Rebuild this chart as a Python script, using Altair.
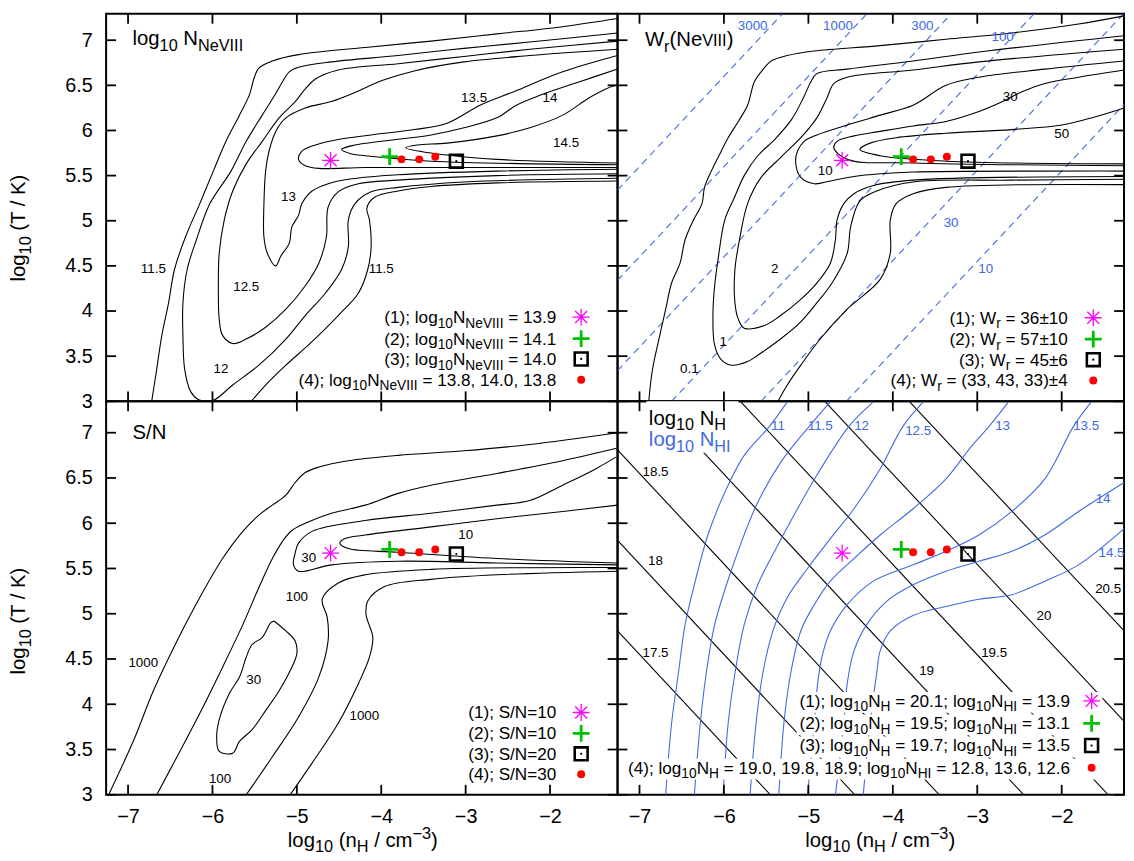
import altair as alt
import pandas as pd

FONT = "Liberation Sans"
BLUE = "#4169e1"
MAGENTA = "#ff00ff"
GREEN = "#00c000"
RED = "#ff0000"

# ---------------- data ----------------
X_TICKS = [-7, -6, -5, -4, -3, -2]
Y_TICKS = [3, 3.5, 4, 4.5, 5, 5.5, 6, 6.5, 7]

XDOM_L = [-7.26, -1.20]
XDOM_R = [-7.26, -1.262]
YDOM_T = [3.0, 7.293]
YDOM_B = [3.0, 7.347]

OBS_STAR = [(-4.60, 5.67)]
OBS_PLUS = [(-3.90, 5.71)]
OBS_SQUARE = [(-3.11, 5.66)]
OBS_DOTS = [(-3.76, 5.68), (-3.55, 5.68), (-3.36, 5.71)]

# panel 1: log10 N(NeVIII)
NE_CONTOURS = {
    "11.5a": [(-6.72, 3.0), (-6.66, 3.36), (-6.60, 3.73), (-6.52, 4.09), (-6.45, 4.46), (-6.32, 4.82), (-6.15, 5.19),
              (-5.99, 5.55), (-5.84, 5.88), (-5.68, 6.17), (-5.56, 6.40), (-5.51, 6.57), (-5.45, 6.69), (-5.29, 6.77),
              (-4.98, 6.84), (-4.19, 6.92), (-3.41, 6.99), (-2.63, 7.07), (-1.85, 7.15), (-1.2, 7.24)],
    "11.5b": [(-5.54, 3.0), (-5.37, 3.18), (-5.13, 3.40), (-4.82, 3.66), (-4.51, 3.95), (-4.27, 4.20), (-4.16, 4.46),
              (-4.12, 4.71), (-4.14, 5.01), (-4.17, 5.14), (-4.08, 5.26), (-3.80, 5.33), (-3.41, 5.38), (-2.63, 5.42),
              (-1.2, 5.44)],
    "12": [(-1.2, 7.08), (-2.24, 6.98), (-3.02, 6.91), (-3.80, 6.83), (-4.59, 6.76), (-4.98, 6.70), (-5.09, 6.65),
           (-5.17, 6.54), (-5.25, 6.41), (-5.41, 6.17), (-5.60, 5.88), (-5.78, 5.55), (-6.03, 5.19), (-6.19, 4.79),
           (-6.30, 4.46), (-6.35, 4.09), (-6.35, 3.73), (-6.33, 3.36), (-6.26, 3.11), (-6.17, 3.02), (-6.07, 3.0),
           (-5.97, 3.02), (-5.76, 3.18), (-5.45, 3.40), (-5.13, 3.69), (-4.90, 3.95), (-4.66, 4.20), (-4.47, 4.46),
           (-4.39, 4.71), (-4.39, 5.01), (-4.31, 5.19), (-4.12, 5.32), (-3.80, 5.37), (-3.02, 5.43), (-1.2, 5.47)],
    "12.5": [(-1.2, 6.99), (-2.24, 6.90), (-3.02, 6.82), (-3.80, 6.74), (-4.51, 6.67), (-4.78, 6.57), (-4.90, 6.46),
             (-5.02, 6.32), (-5.21, 6.14), (-5.41, 5.88), (-5.60, 5.63), (-5.76, 5.33), (-5.86, 5.01), (-5.92, 4.64),
             (-5.93, 4.28), (-5.92, 3.91), (-5.88, 3.73), (-5.76, 3.64), (-5.60, 3.69), (-5.37, 3.82), (-5.13, 4.02),
             (-4.90, 4.28), (-4.74, 4.53), (-4.65, 4.82), (-4.63, 5.15), (-4.51, 5.32), (-4.27, 5.41), (-3.80, 5.45),
             (-2.63, 5.50), (-1.2, 5.52)],
    "13": [(-1.2, 6.90), (-2.24, 6.83), (-3.02, 6.76), (-3.61, 6.66), (-4.0, 6.55), (-4.31, 6.42), (-4.59, 6.32),
           (-4.90, 6.25), (-5.13, 6.14), (-5.25, 5.99), (-5.33, 5.77), (-5.37, 5.55), (-5.39, 5.19), (-5.39, 4.82),
           (-5.35, 4.64), (-5.25, 4.50), (-5.19, 4.61), (-5.09, 4.75), (-5.06, 4.93), (-4.98, 5.06), (-4.94, 5.19),
           (-4.82, 5.33), (-4.63, 5.41), (-4.39, 5.46), (-3.80, 5.51), (-2.63, 5.55), (-1.2, 5.57)],
    "13.5": [(-1.2, 6.83), (-1.85, 6.65), (-2.43, 6.43), (-2.83, 6.28), (-3.22, 6.08), (-3.61, 6.01), (-4.12, 5.95),
             (-4.51, 5.90), (-4.78, 5.84), (-4.94, 5.77), (-4.98, 5.68), (-4.90, 5.61), (-4.74, 5.58), (-4.19, 5.59),
             (-3.02, 5.59), (-1.2, 5.59)],
    "14": [(-1.2, 6.68), (-1.65, 6.54), (-2.12, 6.39), (-2.40, 6.28), (-2.63, 6.14), (-3.02, 6.03), (-3.41, 5.95),
           (-4.0, 5.88), (-4.31, 5.84), (-4.47, 5.79), (-4.35, 5.74), (-4.19, 5.72), (-3.41, 5.66), (-1.2, 5.62)],
    "14.5": [(-1.22, 6.50), (-1.34, 6.46), (-1.54, 6.36), (-1.85, 6.17), (-2.24, 6.03), (-2.63, 5.94), (-3.22, 5.86),
             (-3.57, 5.84), (-3.71, 5.81), (-3.41, 5.75), (-2.63, 5.68), (-1.2, 5.64)],
}
NE_LABELS = [("11.5", -6.70, 4.46), ("12.5", -5.60, 4.27), ("12", -5.90, 3.36), ("13", -5.10, 5.26),
             ("11.5", -4.0, 4.46), ("13.5", -2.90, 6.36), ("14", -2.0, 6.36), ("14.5", -1.81, 5.86)]
NE_LEGEND = ["13.9", "14.1", "14.0", "13.8, 14.0, 13.8"]

# panel 2: W_r(NeVIII)
W_CONTOURS = {
    "0.1a": [(-1.26, 7.27), (-1.80, 7.18), (-2.59, 7.08), (-3.37, 7.01), (-4.15, 6.94), (-4.93, 6.88), (-5.25, 6.83),
             (-5.44, 6.77), (-5.56, 6.65), (-5.64, 6.54), (-5.72, 6.28), (-5.83, 6.10), (-5.95, 5.92), (-6.07, 5.70),
             (-6.15, 5.55), (-6.23, 5.37), (-6.26, 5.19), (-6.36, 5.01), (-6.46, 4.79), (-6.52, 4.53), (-6.62, 4.31),
             (-6.69, 4.02), (-6.77, 3.69), (-6.85, 3.33), (-6.89, 3.0)],
    "0.1b": [(-5.36, 3.0), (-5.25, 3.18), (-5.09, 3.40), (-4.86, 3.69), (-4.54, 4.02), (-4.15, 4.35), (-4.03, 4.64),
             (-4.03, 5.01), (-3.96, 5.19), (-3.76, 5.30), (-3.37, 5.37), (-1.26, 5.40)],
    "1": [(-1.26, 7.05), (-2.98, 6.87), (-3.76, 6.77), (-4.54, 6.68), (-4.90, 6.63), (-4.97, 6.54), (-5.06, 6.36),
          (-5.20, 6.12), (-5.40, 5.90), (-5.60, 5.72), (-5.76, 5.50), (-5.88, 5.25), (-5.99, 5.01), (-6.07, 4.57),
          (-6.11, 4.28), (-6.13, 3.98), (-6.11, 3.62), (-6.03, 3.46), (-5.91, 3.40), (-5.72, 3.44), (-5.60, 3.51),
          (-5.33, 3.69), (-5.09, 3.88), (-4.90, 4.09), (-4.72, 4.31), (-4.54, 4.64), (-4.50, 4.93), (-4.39, 5.22),
          (-4.19, 5.33), (-3.76, 5.43), (-2.59, 5.45), (-1.26, 5.46)],
    "2": [(-1.26, 6.90), (-2.98, 6.76), (-3.76, 6.67), (-4.54, 6.59), (-4.70, 6.52), (-4.78, 6.36), (-4.90, 6.14),
          (-5.09, 5.92), (-5.33, 5.70), (-5.56, 5.48), (-5.72, 5.19), (-5.81, 4.82), (-5.87, 4.46), (-5.87, 4.09),
          (-5.83, 3.91), (-5.76, 3.81), (-5.52, 3.84), (-5.33, 3.95), (-5.09, 4.13), (-4.90, 4.31), (-4.74, 4.53),
          (-4.68, 4.79), (-4.66, 5.01), (-4.58, 5.19), (-4.46, 5.30), (-4.23, 5.39), (-3.76, 5.45), (-1.26, 5.49)],
    "10": [(-1.26, 6.77), (-2.20, 6.68), (-2.98, 6.59), (-3.37, 6.50), (-3.76, 6.28), (-4.15, 6.17), (-4.54, 6.06),
           (-4.90, 5.95), (-5.05, 5.88), (-5.13, 5.77), (-5.15, 5.64), (-5.09, 5.48), (-4.93, 5.41), (-4.74, 5.44),
           (-4.46, 5.49), (-4.15, 5.52), (-3.76, 5.54), (-1.26, 5.55)],
    "30": [(-1.26, 6.67), (-1.80, 6.59), (-2.20, 6.52), (-2.47, 6.43), (-2.70, 6.32), (-2.98, 6.21), (-3.37, 6.10),
           (-3.76, 6.05), (-4.15, 5.99), (-4.46, 5.94), (-4.66, 5.88), (-4.70, 5.81), (-4.54, 5.68), (-3.76, 5.64),
           (-1.26, 5.61)],
    "50": [(-1.26, 6.25), (-1.61, 6.15), (-2.0, 6.06), (-2.59, 6.01), (-3.37, 5.97), (-3.96, 5.92), (-4.27, 5.86),
           (-4.39, 5.79), (-4.15, 5.72), (-3.37, 5.66), (-1.26, 5.63)],
}
W_LABELS = [("0.1", -6.41, 3.36), ("1", -6.01, 3.66), ("2", -5.40, 4.46), ("10", -4.80, 5.55),
            ("30", -2.61, 6.37), ("50", -2.0, 5.96)]
W_DASHED = {
    "3000": [(-7.26, 5.34), (-5.31, 7.29)],
    "1000": [(-7.26, 4.34), (-4.31, 7.29)],
    "300": [(-7.26, 3.34), (-3.31, 7.29)],
    "100": [(-6.62, 3.0), (-2.33, 7.29)],
    "30": [(-5.56, 3.0), (-1.27, 7.29)],
    "10": [(-4.55, 3.0), (-1.26, 6.29)],
}
W_DASH_LABELS = [("3000", -5.66, 7.16), ("1000", -4.65, 7.16), ("300", -3.65, 7.16), ("100", -2.70, 7.03),
                 ("30", -3.31, 4.97), ("10", -2.90, 4.46)]
W_LEGEND = ["36±10", "57±10", "45±6", "(33, 43, 33)±4"]

# panel 3: S/N
SN_CONTOURS = {
    "1000a": [(-7.23, 3.0), (-6.93, 3.61), (-6.70, 4.15), (-6.42, 4.70), (-6.15, 5.18), (-5.88, 5.61), (-5.64, 5.91),
              (-5.45, 6.09), (-5.29, 6.20), (-5.13, 6.31), (-5.02, 6.45), (-4.90, 6.56), (-4.74, 6.62), (-4.39, 6.69),
              (-3.80, 6.75), (-3.02, 6.80), (-2.24, 6.87), (-1.2, 7.0)],
    "100a": [(-6.66, 3.0), (-6.42, 3.42), (-6.15, 3.90), (-5.88, 4.41), (-5.64, 4.88), (-5.45, 5.29), (-5.29, 5.61),
             (-5.17, 5.80), (-5.06, 5.92), (-4.90, 6.0), (-4.59, 6.11), (-4.19, 6.20), (-3.80, 6.33), (-3.41, 6.42),
             (-2.63, 6.55), (-1.85, 6.69), (-1.2, 6.83)],
    "30": [(-1.22, 6.73), (-1.46, 6.60), (-1.85, 6.42), (-2.24, 6.25), (-2.63, 6.20), (-3.41, 6.11), (-4.19, 6.03),
           (-4.82, 5.91), (-4.98, 5.78), (-5.02, 5.67), (-5.04, 5.54), (-4.98, 5.47), (-4.59, 5.54), (-3.80, 5.58),
           (-2.63, 5.56), (-1.2, 5.54)],
    "10": [(-1.2, 6.20), (-1.85, 6.13), (-2.63, 6.05), (-3.41, 5.96), (-4.19, 5.87), (-4.43, 5.83), (-4.49, 5.78),
           (-4.39, 5.72), (-3.80, 5.68), (-2.63, 5.61), (-1.2, 5.56)],
    "100b": [(-5.60, 3.0), (-5.29, 3.42), (-4.98, 3.86), (-4.74, 4.30), (-4.63, 4.70), (-4.64, 4.96), (-4.70, 5.16),
             (-4.51, 5.34), (-4.19, 5.43), (-3.41, 5.49), (-1.2, 5.51)],
    "1000b": [(-5.08, 3.0), (-4.82, 3.35), (-4.51, 3.79), (-4.27, 4.23), (-4.14, 4.52), (-4.10, 4.74), (-4.18, 4.99),
              (-4.16, 5.14), (-3.96, 5.30), (-3.41, 5.38), (-2.63, 5.43), (-1.2, 5.47)],
    "30i": [(-5.27, 4.92), (-5.13, 4.81), (-5.02, 4.70), (-5.0, 4.56), (-5.08, 4.37), (-5.21, 4.15), (-5.37, 3.93),
            (-5.53, 3.72), (-5.68, 3.59), (-5.76, 3.46), (-5.92, 3.48), (-5.95, 3.64), (-5.92, 3.83), (-5.80, 4.12),
            (-5.68, 4.30), (-5.60, 4.52), (-5.53, 4.66), (-5.41, 4.74), (-5.31, 4.90), (-5.27, 4.92)],
}
SN_LABELS = [("1000", -6.82, 4.46), ("100", -5.0, 5.18), ("30", -4.86, 5.61), ("10", -3.0, 5.87),
             ("30", -5.51, 4.27), ("1000", -4.20, 3.87), ("100", -5.91, 3.17)]
SN_LEGEND = ["10", "10", "20", "30"]

# panel 4: log10 N_H (black) and log10 N_HI (blue)
NH_LINES = {
    "17.5": [(-7.26, 4.81), (-5.45, 3.0)],
    "18": [(-7.26, 5.81), (-4.45, 3.0)],
    "18.5": [(-7.26, 6.81), (-3.45, 3.0)],
    "19": [(-6.80, 7.34), (-2.45, 3.0)],
    "19.5": [(-5.80, 7.34), (-1.45, 3.0)],
    "20": [(-4.80, 7.34), (-1.26, 3.81)],
    "20.5": [(-3.80, 7.34), (-1.26, 4.81)],
}
NH_LABELS = [("18.5", -6.81, 6.56), ("18", -6.81, 5.58), ("17.5", -6.81, 4.57), ("19", -3.60, 4.37),
             ("19.5", -2.80, 4.57), ("20", -2.21, 4.98), ("20.5", -1.45, 5.27)]
NHI_CURVES = {
    "11": [(-6.69, 3.0), (-6.62, 3.79), (-6.54, 4.34), (-6.46, 4.88), (-6.34, 5.36), (-6.19, 5.87), (-5.99, 6.34),
           (-5.76, 6.75), (-5.46, 7.07), (-5.25, 7.34)],
    "11.5": [(-6.35, 3.0), (-6.28, 3.79), (-6.21, 4.34), (-6.11, 4.88), (-5.97, 5.32), (-5.79, 5.80), (-5.60, 6.23),
             (-5.33, 6.67), (-4.99, 7.07), (-4.74, 7.34)],
    "12": [(-6.01, 3.0), (-5.95, 3.79), (-5.87, 4.34), (-5.76, 4.88), (-5.60, 5.32), (-5.40, 5.69), (-5.17, 6.09),
           (-4.90, 6.53), (-4.52, 7.07), (-4.23, 7.34)],
    "12.5": [(-5.69, 3.0), (-5.62, 3.79), (-5.54, 4.34), (-5.42, 4.81), (-5.25, 5.18), (-5.01, 5.50), (-4.74, 5.83),
             (-4.46, 6.16), (-4.15, 6.60), (-3.88, 7.07), (-3.64, 7.34)],
    "13": [(-5.35, 3.0), (-5.29, 3.79), (-5.21, 4.34), (-5.09, 4.81), (-4.93, 5.10), (-4.74, 5.36), (-4.46, 5.61),
           (-4.15, 5.87), (-3.76, 6.16), (-3.37, 6.49), (-3.06, 6.86), (-2.86, 7.07), (-2.63, 7.34)],
    "13.5": [(-5.01, 3.0), (-4.93, 3.79), (-4.90, 4.15), (-4.84, 4.52), (-4.74, 4.81), (-4.54, 5.10), (-4.23, 5.36),
             (-3.76, 5.54), (-3.37, 5.69), (-2.98, 5.87), (-2.59, 6.13), (-2.20, 6.49), (-1.86, 7.07), (-1.65, 7.34)],
    "14": [(-4.68, 3.0), (-4.58, 3.79), (-4.54, 4.23), (-4.46, 4.59), (-4.31, 4.88), (-4.07, 5.14), (-3.76, 5.32),
           (-3.37, 5.47), (-2.98, 5.58), (-2.59, 5.69), (-2.20, 5.87), (-1.80, 6.13), (-1.26, 6.45)],
    "14.5": [(-4.35, 3.0), (-4.27, 3.79), (-4.19, 4.35), (-4.15, 4.59), (-4.03, 4.81), (-3.76, 4.98), (-3.37, 5.08),
             (-2.98, 5.16), (-2.59, 5.21), (-2.20, 5.36), (-1.80, 5.54), (-1.26, 5.94)],
}
NHI_LABELS = [("11", -5.36, 7.07), ("11.5", -4.86, 7.07), ("12", -4.37, 7.07), ("12.5", -3.70, 7.02),
              ("13", -2.70, 7.07), ("13.5", -1.71, 7.07), ("14", -1.51, 6.27), ("14.5", -1.41, 5.67)]
NH_LEGEND = ["20.1", "19.5", "19.7", "19.0, 19.8, 18.9"]
NHI_LEGEND = ["13.9", "13.1", "13.5", "12.8, 13.6, 12.6"]

# ---------------- helpers ----------------
AW = {c: 556 for c in "0123456789"}
AW.update({' ': 278, '(': 333, ')': 333, '/': 278, '.': 278, ',': 278, ';': 278, '=': 584, '±': 584,
           '−': 584, '-': 333,
           'a': 556, 'b': 556, 'c': 500, 'd': 556, 'e': 556, 'f': 278, 'g': 556, 'h': 556, 'i': 222,
           'j': 222, 'k': 500, 'l': 222, 'm': 833, 'n': 556, 'o': 556, 'p': 556, 'q': 556, 'r': 333,
           's': 500, 't': 278, 'u': 556, 'v': 500, 'w': 722, 'x': 500, 'y': 500, 'z': 500,
           'A': 667, 'B': 667, 'C': 722, 'D': 722, 'E': 667, 'F': 611, 'G': 778, 'H': 722, 'I': 278,
           'J': 500, 'K': 667, 'L': 556, 'M': 833, 'N': 722, 'O': 778, 'P': 667, 'Q': 778, 'R': 722,
           'S': 667, 'T': 611, 'U': 722, 'V': 667, 'W': 944, 'X': 667, 'Y': 667, 'Z': 611})


def seg_fs(kind, fs):
    return fs if kind == "n" else 0.8 * fs


def seg_shift(kind, fs, sub=0.27):
    return {"b": sub * fs, "p": -0.40 * fs}.get(kind, 0.0)


def str_w(t, f):
    return sum(AW.get(c, 556) for c in t) * f / 1000.0


def text_width(segs, fs):
    return sum(str_w(t, seg_fs(k, fs)) for k, t in segs)


def rich(segs, x, y, fs, color, align="left", rotate=False, sub=0.27):
    total = text_width(segs, fs)
    cur = {"left": 0.0, "center": -total / 2.0, "right": -total}[align]
    rows = []
    for k, t in segs:
        f = seg_fs(k, fs)
        d = seg_shift(k, fs, sub)
        lead = str_w(t[: len(t) - len(t.lstrip(" "))], f)
        s = t.strip(" ")
        pos = cur + lead
        if rotate:
            rows.append(dict(t=s, px=x + d, py=y - pos, fs=f, c=color))
        else:
            rows.append(dict(t=s, px=x + pos, py=y + d, fs=f, c=color))
        cur += str_w(t, f)
    return rows


def contour_df(groups):
    rows = []
    for name, pts in groups.items():
        for i, (x, y) in enumerate(pts):
            rows.append({"id": name, "i": i, "x": x, "y": y})
    return pd.DataFrame(rows)


def sc(dom):
    return alt.Scale(domain=dom, nice=False, zero=False)


def xy(xdom, ydom, xf="x", yf="y"):
    return dict(x=alt.X(f"{xf}:Q", scale=sc(xdom), axis=None),
                y=alt.Y(f"{yf}:Q", scale=sc(ydom), axis=None))


def pix():
    return dict(x=alt.X("px:Q", scale=None, axis=None), y=alt.Y("py:Q", scale=None, axis=None))


def lines(groups, xdom, ydom, color, width=1.1, dash=None, interp="catmull-rom"):
    props = dict(color=color, strokeWidth=width, clip=True, interpolate=interp)
    if dash is not None:
        props["strokeDash"] = dash
    return alt.Chart(contour_df(groups)).mark_line(**props).encode(
        detail="id:N", order="i:Q", **xy(xdom, ydom))


def labels(items, xdom, ydom, color):
    df = pd.DataFrame(items, columns=["t", "x", "y"])
    return alt.Chart(df).mark_text(font=FONT, fontSize=13.5, color=color, align="center",
                                   baseline="middle").encode(text="t:N", **xy(xdom, ydom))


def text_layer(rows, angle=None):
    props = dict(font=FONT, align="left", baseline="alphabetic")
    if angle is not None:
        props["angle"] = angle
    return alt.Chart(pd.DataFrame(rows)).mark_text(**props).encode(
        text="t:N", size=alt.Size("fs:Q", scale=None, legend=None),
        color=alt.Color("c:N", scale=None, legend=None), **pix())


def box_layer(boxes):
    df = pd.DataFrame(boxes, columns=["px", "px2", "py", "py2"])
    return alt.Chart(df).mark_rect(color="white").encode(
        x=alt.X("px:Q", scale=None, axis=None), x2="px2:Q",
        y=alt.Y("py:Q", scale=None, axis=None), y2="py2:Q")


STAR_PATH = "M-1,0L1,0M0,-1L0,1M-0.71,-0.71L0.71,0.71M-0.71,0.71L0.71,-0.71"
PLUS_PATH = "M-1,0L1,0M0,-1L0,1"
SYM_SPECS = [(STAR_PATH, False, 289, MAGENTA, 1.3), (PLUS_PATH, False, 289, GREEN, 2.8),
             ("square", False, 169, "black", 2.6), ("circle", True, 64, RED, None)]


def point(df, enc, shape, filled, size, color, sw):
    props = dict(shape=shape, filled=filled, size=size, color=color, opacity=1)
    if sw is not None:
        props["strokeWidth"] = sw
    return alt.Chart(df).mark_point(**props).encode(**enc)


def marker_layers(xdom, ydom):
    pts = [OBS_STAR, OBS_PLUS, OBS_SQUARE, OBS_DOTS]
    L = []
    for p, spec in zip(pts, SYM_SPECS):
        L.append(point(pd.DataFrame(p, columns=["x", "y"]), xy(xdom, ydom), *spec))
    L.append(point(pd.DataFrame(OBS_SQUARE, columns=["x", "y"]), xy(xdom, ydom), "circle", True, 5, "black", None))
    return L


def sym_layers(symx, ys):
    L = []
    for yy, spec in zip(ys, SYM_SPECS):
        L.append(point(pd.DataFrame({"px": [symx], "py": [yy]}), pix(), *spec))
    L.append(point(pd.DataFrame({"px": [symx], "py": [ys[2]]}), pix(), "circle", True, 5, "black", None))
    return L


def legend(rows_segs, right, symx, bases, fs=17.3):
    rows, boxes = [], []
    for segs, b in zip(rows_segs, bases):
        w = text_width(segs, fs)
        rows += rich(segs, right, b, fs, "black", align="right")
        boxes.append((right - w - 3, symx + 11, b - 15, b + 6))
    return rows, boxes, [b - 6 for b in bases]


def tick_layers(w, h, xdom, ydom):
    dx = pd.DataFrame({"v": X_TICKS})
    dy = pd.DataFrame({"v": Y_TICKS})
    r = dict(color="black", strokeWidth=1.8)
    xe = alt.X("v:Q", scale=sc(xdom), axis=None)
    ye = alt.Y("v:Q", scale=sc(ydom), axis=None)
    return [
        alt.Chart(dx).mark_rule(**r).encode(x=xe, y=alt.value(h), y2=alt.value(h - 10)),
        alt.Chart(dx).mark_rule(**r).encode(x=xe, y=alt.value(0), y2=alt.value(10)),
        alt.Chart(dy).mark_rule(**r).encode(y=ye, x=alt.value(0), x2=alt.value(10)),
        alt.Chart(dy).mark_rule(**r).encode(y=ye, x=alt.value(w), x2=alt.value(w - 10)),
    ]


AX_COMMON = dict(title=None, ticks=False, tickSize=0, domain=False, grid=False, labelFont=FONT,
                 labelFontSize=20, labelColor="black", labelFlush=False, labelOverlap=False)
XAXIS = alt.Axis(values=X_TICKS, format="d", labelPadding=12, **AX_COMMON)
YAXIS = alt.Axis(values=Y_TICKS, format=".1~f", labelPadding=14, **AX_COMMON)

TFS = 20.5
XTITLE = [("n", "log"), ("b", "10"), ("n", " (n"), ("b", "H"), ("n", " / cm"), ("p", "−3"), ("n", ")")]
YTITLE = [("n", "log"), ("b", "10"), ("n", " (T / K)")]
XTITLE_BASE = 450


def panel(w, h, xdom, ydom, content, rows, boxes, symx, symys, xlab, ylab, rot_rows=None, anchor=False):
    carrier = alt.Chart(pd.DataFrame({"x": [xdom[0]], "y": [ydom[0]]})).mark_point(opacity=0, size=1).encode(
        x=alt.X("x:Q", scale=sc(xdom), axis=XAXIS if xlab else None),
        y=alt.Y("y:Q", scale=sc(ydom), axis=YAXIS if ylab else None))
    layers = [carrier] + content + [box_layer(boxes)] + tick_layers(w, h, xdom, ydom)
    layers += marker_layers(xdom, ydom) + sym_layers(symx, symys) + [text_layer(rows)]
    if rot_rows:
        layers.append(text_layer(rot_rows, angle=270))
    if anchor:
        layers.append(alt.Chart(pd.DataFrame({"a": [0]})).mark_rule(opacity=0, strokeOpacity=0).encode(
            x=alt.value(-97.7), y=alt.value(20), y2=alt.value(24)))
    return alt.layer(*layers).resolve_scale(x="independent", y="independent").properties(width=w, height=h)


WL, WR, HT, HB = 516, 511, 391, 397

# ---- panel 1 ----
segs1 = [[("n", f"({i + 1}); log"), ("b", "10"), ("n", "N"), ("b", "NeVIII"), ("n", f" = {v}")]
         for i, v in enumerate(NE_LEGEND)]
r1, b1, s1 = legend(segs1, 454.3, 479.3, [312, 333.7, 354.3, 375.3])
r1 += rich([("n", "log"), ("b", "10"), ("n", " N"), ("b", "NeVIII")], 26.6, 32, TFS, "black")
rot1 = rich(YTITLE, -81.7, 216, TFS, "black", align="center", rotate=True)
p1 = panel(WL, HT, XDOM_L, YDOM_T,
           [lines(NE_CONTOURS, XDOM_L, YDOM_T, "black"), labels(NE_LABELS, XDOM_L, YDOM_T, "black")],
           r1, b1, 479.3, s1, False, True, rot_rows=rot1, anchor=True)

# ---- panel 2 ----
segs2 = [[("n", f"({i + 1}); W"), ("b", "r"), ("n", f" = {v}")] for i, v in enumerate(W_LEGEND)]
r2, b2, s2 = legend(segs2, 455, 480, [312.7, 334.3, 355, 376])
r2 += rich([("n", "W"), ("b", "r"), ("n", "(Ne"), ("s", "VIII"), ("n", ")")], 27.6, 32.7, TFS, "black")
p2 = panel(WR, HT, XDOM_R, YDOM_T,
           [lines(W_DASHED, XDOM_R, YDOM_T, BLUE, width=1.1, dash=[7, 5], interp="linear"),
            lines(W_CONTOURS, XDOM_R, YDOM_T, "black"),
            labels(W_LABELS, XDOM_R, YDOM_T, "black"), labels(W_DASH_LABELS, XDOM_R, YDOM_T, BLUE)],
           r2, b2, 480, s2, False, False)

# ---- panel 3 ----
segs3 = [[("n", f"({i + 1}); S/N={v}")] for i, v in enumerate(SN_LEGEND)]
r3, b3, s3 = legend(segs3, 454.3, 479.3, [320, 341, 361.7, 382.3])
r3 += rich([("n", "S/N")], 26.6, 38, TFS, "black")
r3 += rich(XTITLE, 259, XTITLE_BASE, TFS, "black", align="center", sub=0.25)
rot3 = rich(YTITLE, -81.7, 221.5, TFS, "black", align="center", rotate=True)
p3 = panel(WL, HB, XDOM_L, YDOM_B,
           [lines(SN_CONTOURS, XDOM_L, YDOM_B, "black"), labels(SN_LABELS, XDOM_L, YDOM_B, "black")],
           r3, b3, 479.3, s3, True, True, rot_rows=rot3)

# ---- panel 4 ----
segs4 = [[("n", f"({i + 1}); log"), ("b", "10"), ("n", "N"), ("b", "H"), ("n", f" = {a}; log"), ("b", "10"),
          ("n", "N"), ("b", "HI"), ("n", f" = {b}")] for i, (a, b) in enumerate(zip(NH_LEGEND, NHI_LEGEND))]
r4, b4, s4 = legend(segs4, 456.6, 478.3, [308.3, 331, 353.3, 375.7])
r4 += rich([("n", "log"), ("b", "10"), ("n", " N"), ("b", "H")], 31.6, 23.5, TFS, "black")
r4 += rich([("n", "log"), ("b", "10"), ("n", " N"), ("b", "HI")], 31.6, 45.5, TFS, BLUE)
r4 += rich(XTITLE, 265, XTITLE_BASE, TFS, "black", align="center", sub=0.25)
b4 = b4 + [(29, 122, 0, 52)]
p4 = panel(WR, HB, XDOM_R, YDOM_B,
           [lines(NH_LINES, XDOM_R, YDOM_B, "black", interp="linear"),
            lines(NHI_CURVES, XDOM_R, YDOM_B, BLUE),
            labels(NH_LABELS, XDOM_R, YDOM_B, "black"), labels(NHI_LABELS, XDOM_R, YDOM_B, BLUE)],
           r4, b4, 478.3, s4, True, False)

chart = alt.concat(p1, p2, p3, p4, columns=2, spacing=0, bounds="flush").properties(padding=0, background="white")
chart = chart.configure_view(stroke="black", strokeWidth=2)
chart.save("out.html", embed_options={"renderer": "svg", "actions": False})
